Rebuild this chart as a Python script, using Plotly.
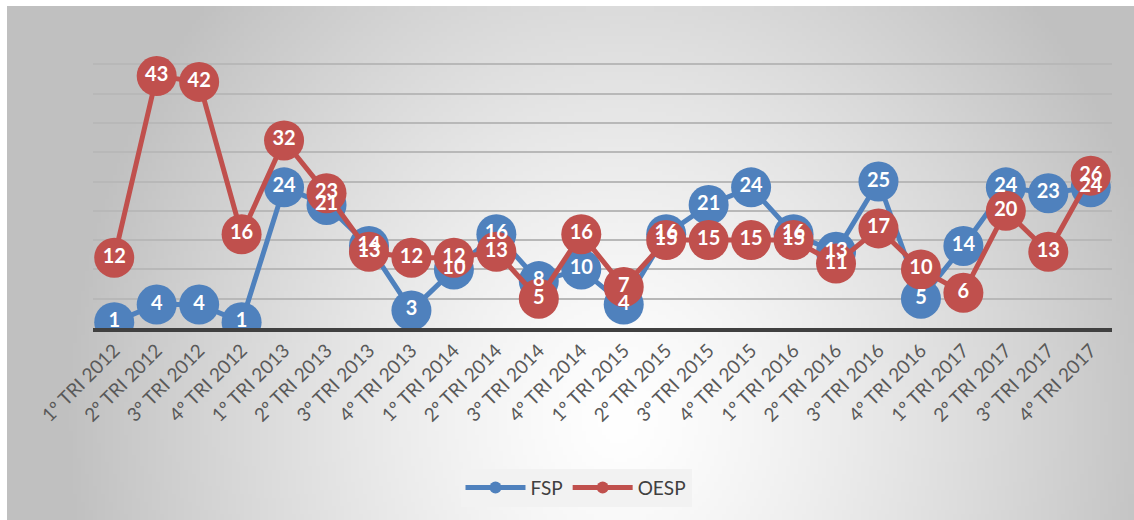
import base64, struct, zlib
import numpy as np
import plotly.graph_objects as go

categories = ["1º TRI 2012", "2º TRI 2012", "3º TRI 2012", "4º TRI 2012",
              "1º TRI 2013", "2º TRI 2013", "3º TRI 2013", "4º TRI 2013",
              "1º TRI 2014", "2º TRI 2014", "3º TRI 2014", "4º TRI 2014",
              "1º TRI 2015", "2º TRI 2015", "3º TRI 2015", "4º TRI 2015",
              "1º TRI 2016", "2º TRI 2016", "3º TRI 2016", "4º TRI 2016",
              "1º TRI 2017", "2º TRI 2017", "3º TRI 2017", "4º TRI 2017"]
fsp = [1, 4, 4, 1, 24, 21, 14, 3, 10, 16, 8, 10, 4, 16, 21, 24, 16, 13, 25, 5, 14, 24, 23, 24]
oesp = [12, 43, 42, 16, 32, 23, 13, 12, 12, 13, 5, 16, 7, 15, 15, 15, 15, 11, 17, 10, 6, 20, 13, 26]

BLUE = "#4f81bd"
RED = "#c0504d"

# ---- background gradient image (radial, gray edges, white centre) ----
W, H = 1134, 520
L, R, T, B = 93, 1112, 35, 328  # plot area in pixels
iw, ih = 283, 129
xs = np.linspace(7, W, iw)
ys = np.linspace(6, H, ih)
X, Y = np.meshgrid(xs, ys)
cx, cy, rx, ry = 620, 420, 560, 640
t = np.sqrt(((X - cx) / rx) ** 2 + ((Y - cy) / ry) ** 2)
t = np.clip(t, 0, 1)
g = 255 - (255 - 192) * t ** 1.3
arr = g.astype(np.uint8)


def png_gray(a):
    h, w = a.shape
    raw = b"".join(b"\x00" + a[i].tobytes() for i in range(h))

    def chunk(tag, data):
        c = struct.pack(">I", len(data)) + tag + data
        return c + struct.pack(">I", zlib.crc32(tag + data) & 0xffffffff)

    return (b"\x89PNG\r\n\x1a\n"
            + chunk(b"IHDR", struct.pack(">IIBBBBB", w, h, 8, 0, 0, 0, 0))
            + chunk(b"IDAT", zlib.compress(raw, 9))
            + chunk(b"IEND", b""))


img_uri = "data:image/png;base64," + base64.b64encode(png_gray(arr)).decode()
pw, ph = R - L, B - T

x = list(range(len(categories)))

fig = go.Figure()
fig.add_trace(go.Scatter(x=x, y=fsp, name="FSP", mode="lines+markers",
                         line=dict(color=BLUE, width=5),
                         marker=dict(color=BLUE, size=40)))
fig.add_trace(go.Scatter(x=x, y=oesp, name="OESP", mode="lines+markers",
                         line=dict(color=RED, width=5),
                         marker=dict(color=RED, size=40)))
for vals in (fsp, oesp):
    fig.add_trace(go.Scatter(x=x, y=vals, mode="text", text=[str(v) for v in vals],
                             textposition="middle center", showlegend=False,
                             hoverinfo="skip",
                             textfont=dict(family="Lato", size=20, color="white",
                                           weight="bold")))

fig.update_layout(
    width=W, height=H,
    margin=dict(l=L, r=W - R, t=T, b=H - B),
    paper_bgcolor="white",
    plot_bgcolor="rgba(0,0,0,0)",
    showlegend=True,
    legend=dict(orientation="h", x=0.474, xanchor="center", y=-0.545, yanchor="middle",
                bgcolor="#f2f2f2", font=dict(family="Lato", size=19, color="#404040"),
                itemsizing="constant", itemwidth=60),
    xaxis=dict(range=[-0.5, len(categories) - 0.5], tickvals=x, ticktext=categories,
               tickangle=-45, showgrid=False, zeroline=False,
               showline=True, linecolor="#404040", linewidth=4,
               ticks="", tickfont=dict(family="Lato", size=19, color="#595959")),
    yaxis=dict(range=[0, 50], dtick=5, showticklabels=False, showgrid=True,
               gridcolor="#b8b8b8", gridwidth=1.5, zeroline=False, fixedrange=True),
    images=[dict(source=img_uri, xref="paper", yref="paper",
                 x=(7 - L) / pw, y=(B - 6) / ph,
                 sizex=(W - 7) / pw, sizey=(H - 6) / ph,
                 xanchor="left", yanchor="top", sizing="stretch", layer="below")],
)

fig.write_html("out.html")
